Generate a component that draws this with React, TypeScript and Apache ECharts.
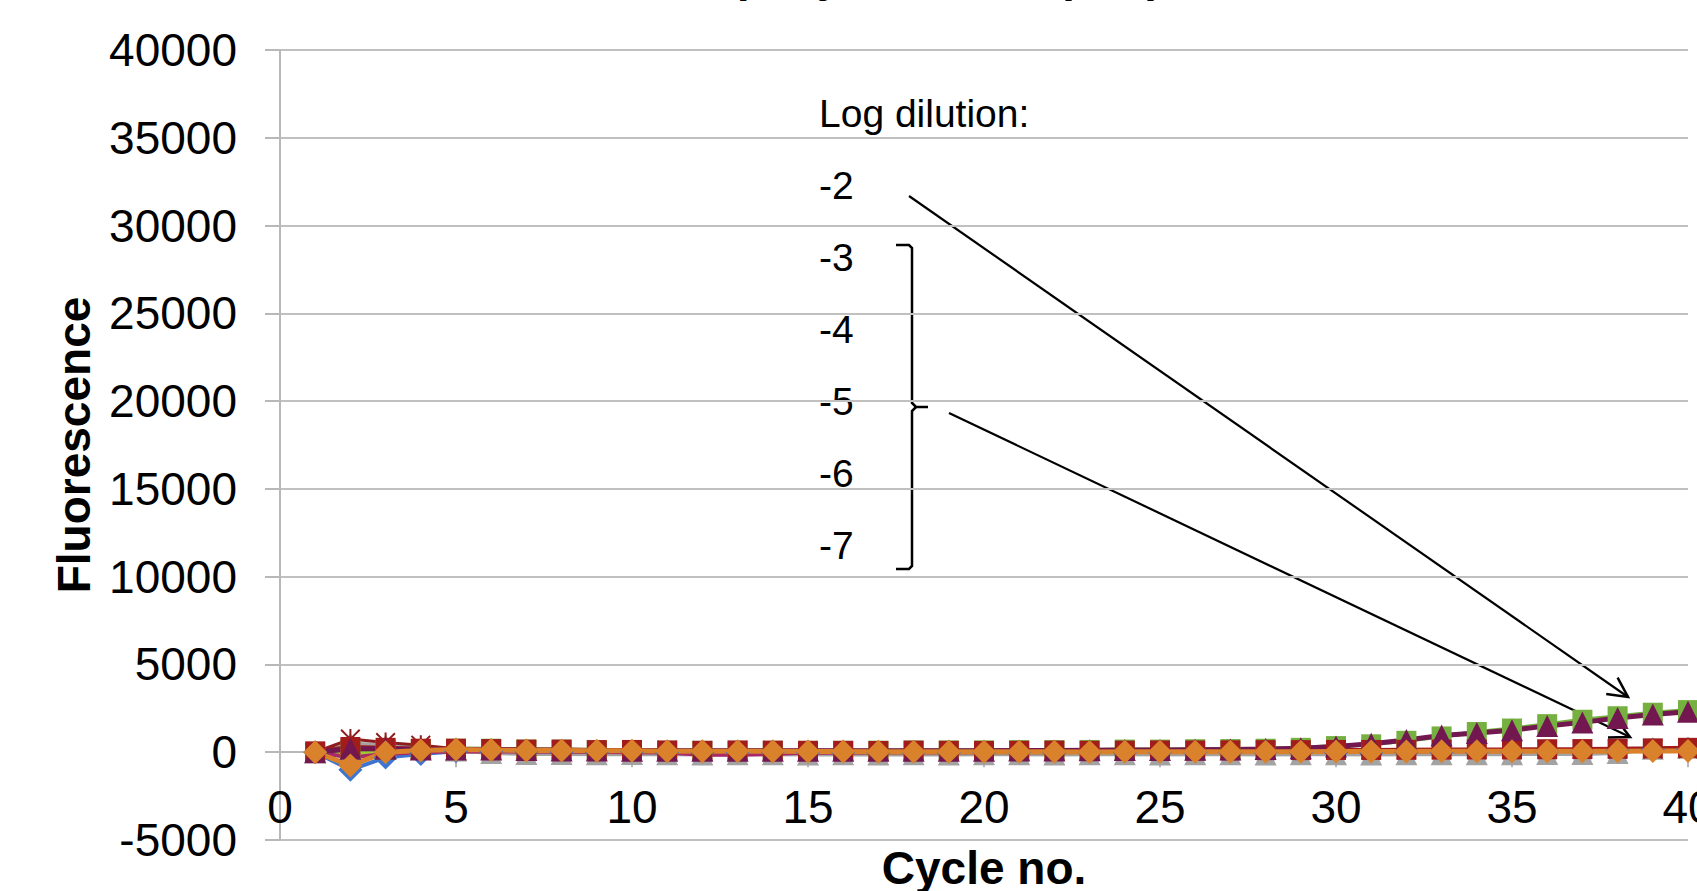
import React, { useEffect, useRef } from "react";
import * as echarts from "echarts";

// ---------- data ----------
const cycles = [1, 2, 3, 4, 5, 6, 7, 8, 9, 10, 11, 12, 13, 14, 15, 16, 17, 18, 19, 20,
  21, 22, 23, 24, 25, 26, 27, 28, 29, 30, 31, 32, 33, 34, 35, 36, 37, 38, 39, 40];

const yTickMin = -5000;
const yTickMax = 40000;
const yTickStep = 5000;
const xTickMin = 0;
const xTickMax = 40;
const xTickStep = 5;

const chartTitle = "Company standard (VIC)";
const xTitle = "Cycle no.";
const yTitle = "Fluorescence";
const legendHeading = "Log dilution:";
const dilutionLabels = ["-2", "-3", "-4", "-5", "-6", "-7"];

// series values (fluorescence per cycle)
const blueDiamond = [0, -1000, -300, -100, 50, 30, 20, 10, 0, 20, 0, -20, 0, 10, -10, 0, -20, 0, -10, 0,
  10, -20, 0, -30, -20, 0, -10, 0, -20, -30, -20, -10, 0, 10, 20, 40, 60, 100, 150, 180];
const grayTriangle = [0, 500, 400, 250, 100, -50, -100, -100, -120, -100, -120, -130, -120, -120, -130, -120, -130, -120, -130, -120,
  -120, -130, -120, -120, -130, -120, -120, -130, -120, -120, -130, -120, -120, -110, -110, -100, -100, -50, 200, 250];
const darkRedStar = [0, 750, 550, 400, 200, 150, 150, 130, 120, 120, 110, 100, 100, 100, 90, 90, 90, 90, 90, 90,
  90, 90, 100, 100, 100, 100, 110, 110, 120, 120, 130, 130, 140, 140, 150, 150, 160, 170, 180, 200];
const limeLine = [0, -100, 100, 120, 100, 80, 60, 50, 40, 30, 20, -50, 20, 10, 0, 0, -10, 0, 10, 0,
  0, 10, 0, 10, 20, 20, 30, 40, 50, 60, 60, 70, 80, 90, 100, 110, 120, 130, 140, 150];
const magentaLine = [0, -300, -100, 0, 50, 40, 30, 20, 10, 0, -10, -150, -150, -100, -20, -30, -20, -10, -10, 0,
  0, 0, 10, 10, 20, 20, 20, 30, 30, 40, 40, 50, 60, 60, 70, 80, 90, 100, 110, 120];
const greenSquare = [0, 150, 150, 150, 200, 200, 150, 150, 120, 100, 80, 80, 80, 80, 80, 80, 90, 100, 100, 110,
  120, 120, 130, 150, 150, 170, 180, 200, 250, 350, 450, 650, 900, 1150, 1350, 1600, 1850, 2050, 2250, 2400];
const darkRedSquare = [50, 300, 250, 200, 200, 180, 150, 150, 120, 130, 100, 80, 100, 90, 80, 80, 70, 90, 80, 70,
  80, 90, 80, 90, 100, 100, 110, 120, 120, 130, 130, 140, 150, 160, 160, 170, 180, 200, 220, 250];
const purpleTriangle = [0, 200, 200, 150, 150, 150, 120, 100, 100, 90, 80, 80, 80, 80, 80, 80, 80, 80, 90, 90,
  100, 100, 110, 120, 120, 140, 160, 180, 230, 330, 480, 700, 950, 1100, 1250, 1500, 1700, 1950, 2150, 2300];
const orangeDiamond = [0, -750, 0, 100, 150, 120, 100, 100, 80, 80, 60, 60, 50, 50, 40, 40, 30, 30, 30, 20,
  20, 20, 10, 20, 20, 20, 20, 30, 30, 40, 40, 40, 50, 50, 50, 60, 60, 60, 70, 70];

const FONT = "'Liberation Sans', Arial, sans-serif";

const STAR_PATH =
  "path://M9,0 L11,0 L11,20 L9,20 Z M1.4,0 L10,8.6 L18.6,0 L20,1.4 L11.4,10 L20,18.6 L18.6,20 L10,11.4 L1.4,20 L0,18.6 L8.6,10 L0,1.4 Z";

function lineSeries(name: string, values: number[], color: string, symbol: string, size: number, width: number) {
  return {
    type: "line",
    name,
    data: cycles.map((c, i) => [c, values[i]]),
    symbol,
    symbolSize: size,
    showSymbol: true,
    lineStyle: { color, width },
    itemStyle: { color, borderWidth: 0 },
    emphasis: { disabled: true },
    silent: true,
  };
}

export default function App() {
  const ref = useRef<HTMLDivElement | null>(null);

  useEffect(() => {
    if (!ref.current) return;
    const chart = echarts.init(ref.current, undefined, { renderer: "svg" });

    const gridLeft = 280;
    const gridTop = 50;
    const gridRight = 9;
    const gridBottom = 51;
    const plotH = 891 - gridTop - gridBottom;
    const zeroOffset = -plotH * (0 - yTickMin) / (yTickMax - yTickMin);

    const legendX = 819;
    const legendY0 = 113;
    const legendStep = 72;

    const graphics: any[] = [];
    graphics.push({
      type: "text",
      x: 637,
      y: -24,
      style: { text: chartTitle, font: `bold 45px ${FONT}`, fill: "#000", textAlign: "left", textVerticalAlign: "middle" },
    });
    graphics.push({
      type: "text",
      x: 74,
      y: 445,
      rotation: Math.PI / 2,
      style: { text: yTitle, font: `bold 46px ${FONT}`, fill: "#000", textAlign: "center", textVerticalAlign: "middle" },
    });
    graphics.push({
      type: "text",
      x: 984,
      y: 868,
      style: { text: xTitle, font: `bold 46px ${FONT}`, fill: "#000", textAlign: "center", textVerticalAlign: "middle" },
    });
    graphics.push({
      type: "text",
      x: legendX,
      y: legendY0,
      style: { text: legendHeading, font: `39px ${FONT}`, fill: "#000", textAlign: "left", textVerticalAlign: "middle" },
    });
    dilutionLabels.forEach((lab, i) => {
      graphics.push({
        type: "text",
        x: legendX,
        y: legendY0 + legendStep * (i + 1),
        style: { text: lab, font: `39px ${FONT}`, fill: "#000", textAlign: "left", textVerticalAlign: "middle" },
      });
    });
    const blk = { stroke: "#000", lineWidth: 2.5, fill: null };
    // bracket
    graphics.push({
      type: "polyline",
      shape: { points: [[896, 245], [909, 245], [912, 248], [912, 403], [916, 407], [928, 407]] },
      style: blk,
    });
    graphics.push({
      type: "polyline",
      shape: { points: [[916, 407], [912, 411], [912, 566], [909, 569], [896, 569]] },
      style: blk,
    });
    // arrows
    graphics.push({ type: "line", shape: { x1: 909, y1: 196, x2: 1628, y2: 697 }, style: { stroke: "#000", lineWidth: 2.2 } });
    graphics.push({
      type: "polyline",
      shape: { points: [[1617.6, 677.6], [1628, 697], [1606.2, 694]] },
      style: { stroke: "#000", lineWidth: 2.5, fill: null },
    });
    graphics.push({ type: "line", shape: { x1: 949, y1: 413, x2: 1630, y2: 737 }, style: { stroke: "#000", lineWidth: 2.2 } });
    graphics.push({
      type: "polyline",
      shape: { points: [[1616.6, 719.6], [1630, 737], [1608, 737.6]] },
      style: { stroke: "#000", lineWidth: 2.5, fill: null },
    });

    const option: any = {
      animation: false,
      backgroundColor: "#fff",
      grid: {
        left: gridLeft, right: gridRight, top: gridTop, bottom: gridBottom,
        containLabel: false, outerBoundsMode: "none",
      },
      xAxis: {
        type: "value",
        min: xTickMin,
        max: xTickMax,
        interval: xTickStep,
        offset: zeroOffset,
        axisLine: { show: true, onZero: false, lineStyle: { color: "#b8b8b8", width: 2 } },
        axisTick: { show: true, length: 15, inside: false, lineStyle: { color: "#b8b8b8", width: 2 } },
        axisLabel: { show: true, fontSize: 46, color: "#000", fontFamily: FONT, margin: 32 },
        splitLine: { show: false },
      },
      yAxis: {
        type: "value",
        min: yTickMin,
        max: yTickMax,
        interval: yTickStep,
        axisLine: { show: true, onZero: false, lineStyle: { color: "#b8b8b8", width: 2 } },
        axisTick: { show: true, length: 15, inside: false, lineStyle: { color: "#b8b8b8", width: 2 } },
        axisLabel: {
          show: true, fontSize: 46, color: "#000", fontFamily: FONT, margin: 43,
          formatter: (v: number) => String(v),
        },
        splitLine: { show: true, lineStyle: { color: "#c0c0c0", width: 2 } },
      },
      series: [
        lineSeries("-3 a", blueDiamond, "#3f74cf", "diamond", 24, 4),
        lineSeries("-4 a", grayTriangle, "#a3a3a3", "triangle", 22, 4),
        lineSeries("-4 b", darkRedStar, "#8e1b1e", STAR_PATH, 20, 3),
        lineSeries("-5", limeLine, "#9ccc2e", "none", 1, 4),
        lineSeries("-6", magentaLine, "#a8286a", "none", 1, 4),
        lineSeries("-2 a", greenSquare, "#76b041", "rect", 20, 4),
        lineSeries("-3 b", darkRedSquare, "#a21c1c", "rect", 20, 4),
        lineSeries("-2 b", purpleTriangle, "#72174f", "triangle", 22, 5),
        lineSeries("-7", orangeDiamond, "#d9822b", "diamond", 24, 5),
      ],
      graphic: graphics,
    };
    chart.setOption(option);
    return () => chart.dispose();
  }, []);

  return (
    <div
      ref={ref}
      style={{ position: "fixed", left: 0, top: 0, width: 1697, height: 891, background: "#fff" }}
    />
  );
}
